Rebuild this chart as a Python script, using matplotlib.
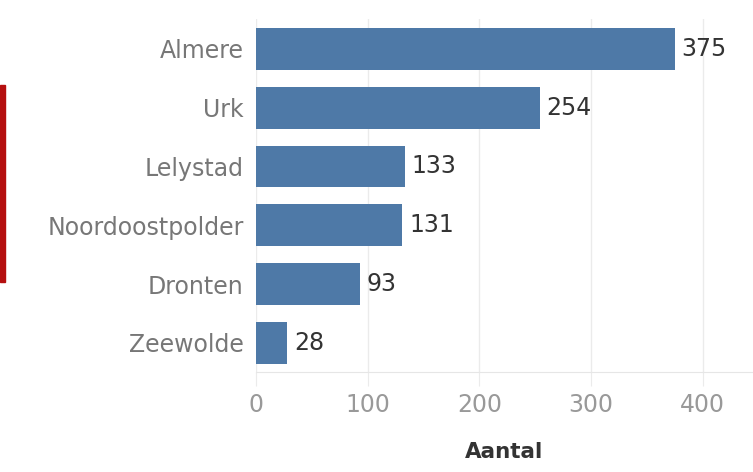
import matplotlib.pyplot as plt
from matplotlib.patches import Rectangle

# gemeenten en aantallen
gemeenten = ["Almere", "Urk", "Lelystad", "Noordoostpolder", "Dronten", "Zeewolde"]
aantal = [375, 254, 133, 131, 93, 28]
x_ticks = [0, 100, 200, 300, 400]

plt.rcParams['font.family'] = ['DejaVu Sans']

fig = plt.figure(figsize=(7.53, 4.72), dpi=100)
ax = fig.add_axes([0.340, 0.211, 0.660, 0.748])

ypos = list(range(len(gemeenten)))[::-1]
bars = ax.barh(ypos, aantal, height=0.71, color='#4e79a7', zorder=3)

for y, v in zip(ypos, aantal):
    ax.text(v + 6, y, str(v), va='center', ha='left', fontsize=17, color='#333333')

ax.set_yticks(ypos)
ax.set_yticklabels(gemeenten, fontsize=17, color='#777777')
ax.set_ylim(-0.5, len(gemeenten) - 0.5)

ax.set_xlim(0, 445)
ax.set_xticks(x_ticks)
ax.set_xticklabels([str(t) for t in x_ticks], fontsize=17, color='#999999')
ax.set_xlabel("Aantal", fontsize=15.5, color='#333333', fontweight='bold', labelpad=18)

ax.grid(axis='x', color='#ebebeb', linewidth=1, zorder=0)
for s in ['top', 'right', 'left']:
    ax.spines[s].set_visible(False)
ax.spines['bottom'].set_color('#e6e6e6')
ax.tick_params(axis='y', length=0, pad=9)
ax.tick_params(axis='x', length=10, color='#ebebeb', pad=5)

# rode balk links
fig.patches.append(Rectangle((0, 1 - 282 / 472), 5 / 753, 197 / 472,
                             transform=fig.transFigure, color='#b50f0f'))

fig.savefig('out.png', dpi=100)
